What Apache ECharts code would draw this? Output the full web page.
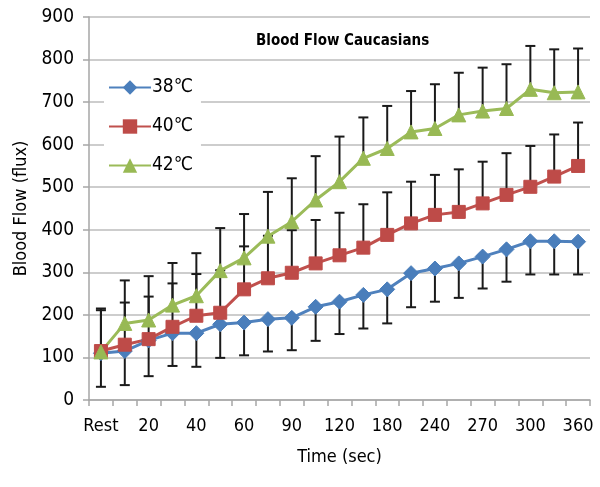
<!DOCTYPE html>
<html>
<head>
<meta charset="utf-8">
<script src="https://cdn.jsdelivr.net/npm/echarts@6/dist/echarts.min.js"></script>
<style>
  html, body { margin: 0; padding: 0; background: #fff; }
  #chart { width: 600px; height: 487px; }
</style>
</head>
<body>
<div id="chart"></div>
<script>
const FONT = "'Liberation Sans Narrow', 'DejaVu Sans Condensed', sans-serif";

const categories = ["Rest", "10", "20", "30", "40", "50", "60", "75", "90", "105", "120",
  "150", "180", "210", "240", "255", "270", "285", "300", "330", "360"];

const flow38 = [110, 115, 140, 157, 157, 178, 182, 190, 193, 219, 231, 247, 260, 298, 309, 321, 337, 354, 373, 373, 372];
const err38 = [79, 80, 84, 77, 79, 79, 77, 76, 76, 80, 76, 79, 80, 80, 78, 81, 75, 76, 78, 78, 77];

const flow40 = [115, 130, 143, 172, 198, 205, 260, 286, 299, 321, 340, 358, 388, 415, 435, 442, 462, 482, 501, 525, 550];
const err40 = [100, 99, 100, 102, 98, 100, 101, 100, 100, 102, 100, 102, 100, 98, 94, 100, 98, 98, 96, 99, 102];

const flow42 = [113, 180, 188, 223, 245, 304, 334, 385, 419, 470, 513, 568, 591, 630, 638, 670, 679, 685, 730, 722, 724];
const err42 = [98, 101, 103, 99, 100, 100, 103, 104, 102, 103, 106, 96, 100, 96, 104, 99, 102, 104, 102, 102, 102];

const yTicks = { min: 0, max: 900, interval: 100 };

const chart = echarts.init(document.getElementById("chart"), null, { renderer: "canvas" });

// error bar: [index, from, to]
function errorSeries(vals, errs, dir) {
  const data = vals.map((v, i) => [i, v, v + dir * errs[i]]);
  return {
    type: "custom",
    z: 1,
    silent: true,
    data,
    renderItem: (params, api) => {
      const p0 = api.coord([api.value(0), api.value(1)]);
      const p1 = api.coord([api.value(0), api.value(2)]);
      const cap = 5;
      const style = { stroke: "#1a1a1a", lineWidth: 2 };
      return {
        type: "group",
        children: [
          { type: "line", shape: { x1: p0[0], y1: p0[1], x2: p1[0], y2: p1[1] }, style },
          { type: "line", shape: { x1: p1[0] - cap, y1: p1[1], x2: p1[0] + cap, y2: p1[1] }, style },
        ],
      };
    },
  };
}

function lineSeries(name, vals, color, markColor, symbol, size) {
  return {
    name,
    type: "line",
    z: 3,
    data: vals,
    symbol,
    symbolSize: size,
    lineStyle: { color, width: 3 },
    itemStyle: { color: markColor, borderColor: markColor },
  };
}

chart.setOption({
  backgroundColor: "#fff",
  animation: false,
  textStyle: { fontFamily: FONT },
  title: {
    text: "Blood Flow Caucasians",
    left: 251,
    top: 29,
    textStyle: { fontFamily: FONT, fontWeight: "bold", fontSize: 15, color: "#000" },
  },
  legend: {
    orient: "vertical",
    left: 104,
    top: 70,
    itemWidth: 42,
    itemHeight: 18,
    itemGap: 20,
    backgroundColor: "#fff",
    padding: [8, 8, 8, 4],
    textStyle: { fontFamily: FONT, fontSize: 19, lineHeight: 18, color: "#000", padding: [0, 0, 0, -4] },
    data: ["38℃", "40℃", "42℃"],
  },
  grid: { left: 89, right: 10, top: 17, bottom: 87 },
  xAxis: {
    type: "category",
    data: categories,
    boundaryGap: true,
    name: "Time (sec)",
    nameLocation: "middle",
    nameGap: 48,
    nameTextStyle: { fontFamily: FONT, fontSize: 18, color: "#000" },
    axisLine: { lineStyle: { color: "#a6a6a6", width: 1.5 } },
    axisTick: { show: true, length: 6, interval: 0, lineStyle: { color: "#a6a6a6", width: 1.5 } },
    axisLabel: { interval: 1, margin: 17, fontFamily: FONT, fontSize: 18, color: "#000" },
  },
  yAxis: {
    type: "value",
    min: yTicks.min,
    max: yTicks.max,
    interval: yTicks.interval,
    name: "Blood Flow (flux)",
    nameLocation: "middle",
    nameGap: 57,
    nameTextStyle: { fontFamily: FONT, fontSize: 18, color: "#000" },
    axisLine: { show: true, lineStyle: { color: "#a6a6a6", width: 1.5 } },
    axisTick: { show: true, length: 6, lineStyle: { color: "#a6a6a6", width: 1.5 } },
    axisLabel: { margin: 15, fontFamily: FONT, fontSize: 19, color: "#000" },
    splitLine: { lineStyle: { color: "#bdbdbd", width: 1.5 } },
  },
  series: [
    errorSeries(flow38, err38, -1),
    errorSeries(flow40, err40, 1),
    errorSeries(flow42, err42, 1),
    lineSeries("38℃", flow38, "#4f81bd", "#4a7ebb", "diamond", 15),
    lineSeries("40℃", flow40, "#c0504d", "#be4b48", "rect", 13),
    lineSeries("42℃", flow42, "#9bbb59", "#98b954", "triangle", 14),
  ],
});
</script>
</body>
</html>
